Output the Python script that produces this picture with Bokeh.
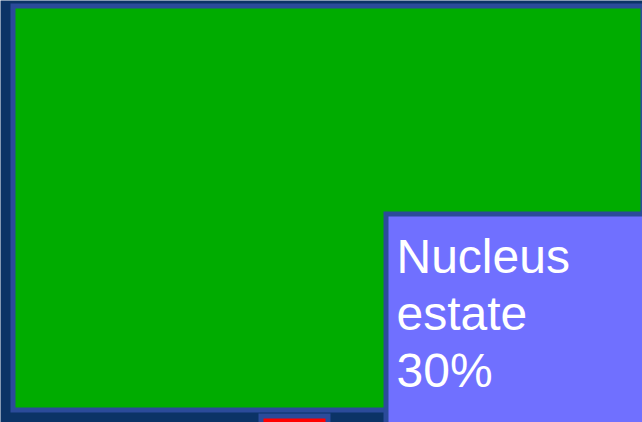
from bokeh.plotting import figure
from bokeh.models import Range1d, ColumnDataSource
from bokeh.core.properties import value
from bokeh.embed import file_html
from bokeh.resources import INLINE

# Blocks of the diagram (edges in picture units, y grows downward)
block_names = ["Plantation", "Smallholder", "Nucleus estate"]
block_left = [12.5, 260.5, 385.5]
block_right = [642.5, 327.5, 660.0]
block_top = [5.5, 415.5, 213.5]
block_bottom = [409.5, 440.0, 440.0]
block_colors = ["#00AC00", "#FF0000", "#7070FF"]

# Label of the share block
label_words = ["Nucleus", "estate"]
label_share = [30]

NAVY = "#0B3366"
EDGE = "#2B4B9A"

p = figure(width=642, height=422, output_backend="svg", toolbar_location=None,
           x_range=Range1d(0, 642), y_range=Range1d(422, 0),
           background_fill_color=NAVY, border_fill_color=NAVY,
           outline_line_color=None, min_border=0)
p.axis.visible = False
p.grid.visible = False

src = ColumnDataSource(dict(left=block_left, right=block_right, top=block_top,
                            bottom=block_bottom, color=block_colors, name=block_names))
p.quad(left="left", right="right", top="top", bottom="bottom", source=src,
       fill_color="color", line_color=EDGE, line_width=5, line_join="miter")

lines = label_words + [f"{label_share[0]}%"]
p.text(x=[396] * len(lines), y=[256, 312.5, 370], text=lines,
       text_color="white", text_font=value("Liberation Sans"),
       text_font_size="48px", text_baseline="alphabetic", text_align="left")

open("out.html", "w").write(file_html(p, INLINE))
